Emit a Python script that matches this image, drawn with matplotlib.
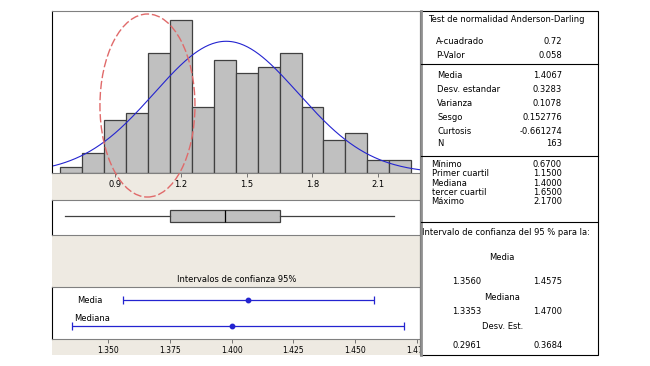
import numpy as np
import matplotlib
matplotlib.use("Agg")
import matplotlib.pyplot as plt
from matplotlib.patches import Rectangle, Ellipse

plt.rcParams['font.family'] = ['DejaVu Sans']

# datos
centros = [0.7, 0.8, 0.9, 1.0, 1.1, 1.2, 1.3, 1.4, 1.5, 1.6, 1.7, 1.8, 1.9, 2.0, 2.1, 2.2]
frecuencias = [1, 3, 8, 9, 18, 23, 10, 17, 15, 16, 18, 10, 5, 6, 2, 2]
ancho_clase = 0.1
ticks_hist = [0.9, 1.2, 1.5, 1.8, 2.1]

media, desv, n = 1.4067, 0.3283, 163
minimo, q1, mediana, q3, maximo = 0.67, 1.15, 1.40, 1.65, 2.17

ic_media = (1.3560, 1.4575)
ic_mediana = (1.3353, 1.4700)
ticks_ic = [1.350, 1.375, 1.400, 1.425, 1.450, 1.475]

tabla_ad = [("A-cuadrado", "0.72"), ("P-Valor", "0.058")]
tabla_desc = [("Media", "1.4067"), ("Desv. estandar", "0.3283"), ("Varianza", "0.1078"),
              ("Sesgo", "0.152776"), ("Curtosis", "-0.661274"), ("N", "163")]
tabla_cuart = [("Mínimo", "0.6700"), ("Primer cuartil", "1.1500"), ("Mediana", "1.4000"),
               ("tercer cuartil", "1.6500"), ("Máximo", "2.1700")]
tabla_ic = [("Media", "1.3560", "1.4575"), ("Mediana", "1.3353", "1.4700"),
            ("Desv. Est.", "0.2961", "0.3684")]

W, H = 650, 366
fig = plt.figure(figsize=(6.5, 3.66), dpi=100)


def caja(x0, y0, x1, y1):
    # pixeles (origen arriba-izquierda) -> coordenadas de figura
    return [x0 / W, 1 - y1 / H, (x1 - x0) / W, (y1 - y0) / H]


def fx(x):
    return x / W


def fy(y):
    return 1 - y / H


beige = '#EEEAE2'
borde = '#404040'
gris = '#C0C0C0'
azul = '#2424D0'
fs = 6

# fondo beige del panel izquierdo
fig.patches.append(Rectangle((fx(52), fy(355)), fx(420) - fx(52), fy(11) - fy(355),
                             transform=fig.transFigure, facecolor=beige, edgecolor='none', zorder=-1))

# histograma
ax = fig.add_axes(caja(52, 11, 420, 173.3))
ax.bar(centros, frecuencias, width=ancho_clase, color=gris, edgecolor=borde, linewidth=0.9)
xs = np.linspace(0.6, 2.3, 300)
ys = n * ancho_clase * np.exp(-0.5 * ((xs - media) / desv) ** 2) / (desv * np.sqrt(2 * np.pi))
ax.plot(xs, ys, color=azul, lw=0.8)
ax.set_xlim(0.613, 2.290)
ax.set_ylim(0, 24.35)
ax.set_xticks(ticks_hist)
ax.set_xticklabels([f"{t:.1f}" for t in ticks_hist], fontsize=fs)
ax.tick_params(axis='x', length=3, width=0.6, color='#606060', pad=2)
ax.set_yticks([])
for s in ['top', 'right', 'bottom']:
    ax.spines[s].set_color('#808080')
ax.spines['left'].set_color('black')
ax.spines['right'].set_visible(False)
# elipse roja que marca la zona de interes
ax.add_patch(Ellipse((1.048, 10.17), 0.433, 27.46, fill=False, edgecolor='#E06A6A',
                     linestyle=(0, (6, 2)), lw=1, clip_on=False, zorder=5))

# diagrama de caja
axb = fig.add_axes(caja(52, 200, 420, 235))
axb.bxp([{'whislo': minimo, 'q1': q1, 'med': mediana, 'q3': q3, 'whishi': maximo, 'fliers': []}],
        positions=[0.54], widths=0.36, vert=False, showcaps=False, patch_artist=True,
        boxprops=dict(facecolor=gris, edgecolor=borde, lw=0.9),
        medianprops=dict(color='black', lw=0.9),
        whiskerprops=dict(color=borde, lw=0.9))
axb.set_xlim(0.613, 2.290)
axb.set_ylim(0, 1)
axb.set_xticks([])
axb.set_yticks([])
for s in ['top', 'right', 'bottom']:
    axb.spines[s].set_color('#808080')
axb.spines['left'].set_color('black')

# intervalos de confianza
fig.text(fx(236.7), fy(279), "Intervalos de confianza 95%", fontsize=fs, ha='center', va='center')
axc = fig.add_axes(caja(52, 287, 420, 339))
for (lo, hi), punto, y in [(ic_media, media, 0.744), (ic_mediana, mediana, 0.256)]:
    axc.errorbar([punto], [y], xerr=[[punto - lo], [hi - punto]], fmt='o', color=azul,
                 ms=3.2, lw=0.9, capsize=3, capthick=0.9)
axc.text(0.067, 0.744, "Media", transform=axc.transAxes, fontsize=fs, va='center')
axc.text(0.060, 0.40, "Mediana", transform=axc.transAxes, fontsize=fs, va='center')
axc.set_xlim(1.3272, 1.4763)
axc.set_ylim(0, 1)
axc.set_xticks(ticks_ic)
axc.set_xticklabels([f"{t:.3f}" for t in ticks_ic], fontsize=5.5)
axc.tick_params(axis='x', length=3, width=0.6, color='#606060', pad=2)
axc.set_yticks([])
for s in ['top', 'right', 'bottom']:
    axc.spines[s].set_color('#808080')
axc.spines['left'].set_color('black')

# tabla de estadisticos
fig.patches.append(Rectangle((fx(420), fy(355)), fx(598) - fx(420), fy(11) - fy(355),
                             transform=fig.transFigure, facecolor='white', edgecolor='black',
                             lw=0.8, zorder=10))
fig.lines.append(plt.Line2D([fx(420.5), fx(420.5)], [fy(11), fy(355)], transform=fig.transFigure,
                            color='#909090', lw=2, zorder=11))
for yl in [64.3, 156, 222.5]:
    fig.lines.append(plt.Line2D([fx(421), fx(598)], [fy(yl), fy(yl)], transform=fig.transFigure,
                                color='black', lw=0.8, zorder=11))


def txt(x, y, s, ha='left'):
    fig.text(fx(x), fy(y), s, fontsize=fs, ha=ha, va='center', zorder=12)


txt(428, 20, "Test de normalidad Anderson-Darling")
for (et, v), y in zip(tabla_ad, [41, 55.5]):
    txt(436, y, et)
    txt(562, y, v, ha='right')
for (et, v), y in zip(tabla_desc, [76, 89.5, 103.3, 117.3, 131, 143.5]):
    txt(437, y, et)
    txt(562, y, v, ha='right')
for (et, v), y in zip(tabla_cuart, [165, 174, 183.3, 192.7, 201.5]):
    txt(431.5, y, et)
    txt(562, y, v, ha='right')
txt(421.5, 232.7, "Intervalo de confianza del 95 % para la:")
for (et, lo, hi), ye, yv in zip(tabla_ic, [257.3, 297.7, 326.7], [281, 311.3, 345]):
    txt(502.3, ye, et, ha='center')
    txt(466.7, yv, lo, ha='center')
    txt(547.7, yv, hi, ha='center')

fig.savefig("out.png", dpi=100)
